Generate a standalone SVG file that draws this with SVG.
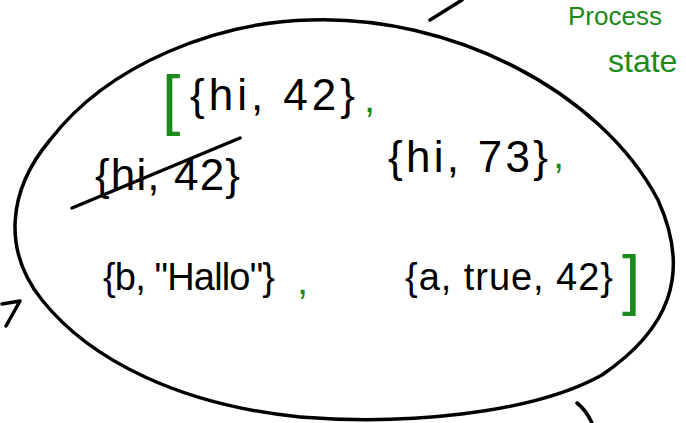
<svg xmlns="http://www.w3.org/2000/svg" width="686" height="423" viewBox="0 0 686 423">
<style>
.ink{fill:none;stroke:#000;stroke-width:3.5;stroke-linecap:round;stroke-linejoin:round}
.t{font-family:"Liberation Sans","DejaVu Sans",sans-serif;fill:#000;font-size:44px}
.s{font-size:38px}
.g{font-family:"Liberation Sans","DejaVu Sans",sans-serif;fill:#1a8a1a}
</style>
<rect width="686" height="423" fill="#fff"/>
<g id="strokes">
<path class="ink" d="M 310,20 C 450,15 600,90 658,200 C 692,275 668,330 602,375 C 530,415 400,425 300,417 C 180,405 90,360 42,300 C 2,250 8,190 50,140 C 110,62 220,22 310,20 Z"/>
<path class="ink" d="M 430,20 L 462,0"/>
<path class="ink" d="M 2,304 L 20,301 L 6,326"/>
<path class="ink" d="M 577,403 Q 586,410 592,423"/>
<path class="ink" d="M 72,208 L 240,138"/>
</g>
<g id="list">
<text class="g" x="162" y="122" font-size="66">[</text>
<text class="t" x="190" y="110" textLength="165" lengthAdjust="spacing">{hi, 42}</text>
<text class="g" x="364" y="112" font-size="40">,</text>
<text class="t" x="95" y="190" textLength="145" lengthAdjust="spacing">{hi, 42}</text>
<text class="t" x="388" y="172" textLength="160" lengthAdjust="spacing">{hi, 73}</text>
<text class="g" x="553" y="168" font-size="40">,</text>
<text class="t s" x="103" y="290" textLength="172" lengthAdjust="spacing">{b, "Hallo"}</text>
<text class="g" x="297" y="294" font-size="40">,</text>
<text class="t s" x="405" y="290" textLength="208" lengthAdjust="spacing">{a, true, 42}</text>
<text class="g" x="622" y="302" font-size="66">]</text>
</g>
<g id="note">
<text class="g" x="568" y="25" font-size="26">Process</text>
<text class="g" x="608" y="72" font-size="32">state</text>
</g>
</svg>
